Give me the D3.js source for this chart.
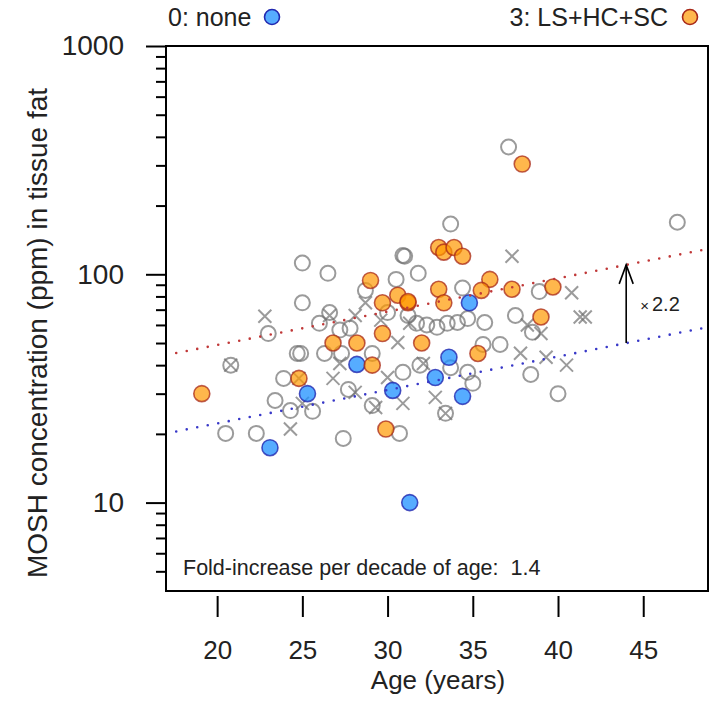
<!DOCTYPE html>
<html>
<head>
<meta charset="utf-8">
<script src="https://cdn.jsdelivr.net/npm/d3@7"></script>
<style>
body { margin: 0; background: #fff; }
svg { display: block; font-family: "Liberation Sans", Arial, Helvetica, sans-serif; }
.axis path.domain { display: none; }
.axis line { stroke: #000; stroke-width: 2; }
.axis text { fill: #222; font-family: "Liberation Sans", Arial, sans-serif; }
</style>
</head>
<body>
<svg id="chart"></svg>
<script>
const margin = {top: 46, right: 1, bottom: 110, left: 166};
const chartWidth = 709;
const chartHeight = 701;
const innerWidth = chartWidth - margin.left - margin.right;
const innerHeight = chartHeight - margin.top - margin.bottom;

const X_MIN = 17.0;
const X_MAX = 48.8;
const Y_MIN = 4.1;
const Y_MAX = 1000;

const X_TICKS = [20, 25, 30, 35, 40, 45];
const Y_TICKS = [10, 100, 1000];
const Y_MINOR_TICKS = [5, 6, 7, 8, 9, 20, 30, 40, 50, 60, 70, 80, 90, 200, 300, 400, 500, 600, 700, 800, 900];

const X_LABEL = "Age (years)";
const Y_LABEL = "MOSH concentration (ppm) in tissue fat";
const LEGEND_NONE = "0: none";
const LEGEND_ALL = "3: LS+HC+SC";
const NOTE = "Fold-increase per decade of age:  1.4";

// [age, ppm]
const noneData = [
    [23.1, 17.4], [25.3, 30], [28.2, 40.3], [30.3, 31], [31.3, 10], [32.8, 35.3],
    [33.6, 43.3], [34.4, 29.2], [34.8, 75]
];
const allData = [
    [19.1, 30], [24.8, 35], [26.8, 50], [28.2, 50], [29.0, 94], [29.7, 75], [30.6, 81],
    [31.2, 75], [31.2, 76], [29.7, 55], [32.0, 50], [29.1, 40], [29.9, 21], [33.0, 131],
    [33.3, 125], [33.9, 131], [34.4, 120], [33.0, 86], [33.3, 75], [36.0, 95], [35.5, 85],
    [37.3, 86], [39.7, 88], [39.0, 65], [35.3, 45], [37.9, 304]
];
const otherCircles = [
    [37.1, 361], [47.0, 169], [33.7, 166], [30.9, 121], [31.0, 120], [25.0, 112], [26.5, 101],
    [30.5, 95], [31.8, 101], [28.7, 85], [25.0, 75], [34.4, 87], [38.9, 84], [23.0, 55],
    [24.9, 45], [24.7, 45], [26.3, 45], [27.3, 45], [29.1, 45], [20.8, 40], [23.9, 35],
    [23.4, 28], [24.3, 25.3], [25.6, 25.1], [20.5, 20.1], [22.3, 20.1], [27.4, 19.1],
    [30.7, 20.1], [27.7, 31.3], [29.1, 26.6], [30.9, 37.2], [31.9, 40], [38.4, 36.4],
    [40.0, 30], [35.0, 33.3], [34.7, 37.2], [33.7, 39], [35.6, 49.3], [36.6, 49.3],
    [33.4, 24.6], [26.0, 61], [27.2, 57], [27.8, 58], [30.0, 68], [31.2, 66], [31.7, 61],
    [32.3, 60], [32.9, 58.6], [33.5, 61], [34.1, 61.5], [34.7, 64], [35.7, 61.5],
    [37.5, 66], [38.5, 55.7], [26.6, 68]
];
const otherCrosses = [
    [37.3, 120], [22.8, 65.5], [20.8, 40], [24.8, 35], [24.3, 21], [25.0, 27.2], [26.6, 66],
    [28.1, 66], [28.7, 75], [26.8, 35], [27.2, 40.7], [28.1, 30.4], [29.3, 26.1], [30.9, 27.2],
    [30.0, 35.3], [32.1, 40.7], [29.6, 63], [31.3, 61], [37.8, 45.1], [39.3, 43.3], [40.5, 40],
    [40.8, 83], [41.3, 65], [41.6, 65], [38.2, 60], [39.0, 55], [32.8, 28.9], [33.4, 24.6],
    [30.6, 50.3]
];

// fitted lines (log scale), ends only
const FIT_AGES = [17.6, 48.8];
const FIT_LOW = [20.5, 58.7];
const FIT_HIGH = [45.2, 129.2];

const ARROW_AGE = 44.0;
const ARROW_FROM = 50;
const ARROW_TO = 110;
const ARROW_LABEL = "2.2";

const GREY = "#707070";

let xScale = d3.scaleLinear().domain([X_MIN, X_MAX]).range([0, innerWidth]);
let yScale = d3.scaleLog().domain([Y_MIN, Y_MAX]).range([innerHeight, 0]);

let chartSvg = d3.select("#chart")
    .attr("width", chartWidth)
    .attr("height", chartHeight);
let chartG = chartSvg.append("g")
    .attr("transform", `translate(${margin.left}, ${margin.top})`);

chartSvg.append("defs").append("clipPath")
    .attr("id", "plot-clip")
    .append("rect")
    .attr("width", innerWidth)
    .attr("height", innerHeight);

drawAxes();
drawPoints();
drawFits();
drawLegend();
appendLabels();

function drawAxes() {
    chartG.append("g")
        .attr("class", "axis")
        .call(d3.axisLeft(yScale).tickValues(Y_TICKS).tickSize(20).tickPadding(22)
            .tickFormat(d3.format("d")))
        .selectAll("text").attr("font-size", "28px");

    chartG.append("g")
        .attr("class", "axis")
        .call(d3.axisLeft(yScale).tickValues(Y_MINOR_TICKS).tickSize(10).tickFormat(""));

    chartG.append("g")
        .attr("class", "axis")
        .attr("transform", `translate(0,${innerHeight + 5})`)
        .call(d3.axisBottom(xScale).tickValues(X_TICKS).tickSize(21).tickPadding(24))
        .selectAll("text").attr("font-size", "26px");

    chartG.append("rect")
        .attr("width", innerWidth)
        .attr("height", innerHeight)
        .attr("fill", "none")
        .attr("stroke", "#000")
        .attr("stroke-width", 2);
}

function drawPoints() {
    let pts = chartG.append("g").attr("clip-path", "url(#plot-clip)");

    pts.selectAll(".other-circle")
        .data(otherCircles)
        .enter().append("circle")
        .attr("class", "other-circle")
        .attr("cx", d => xScale(d[0]))
        .attr("cy", d => yScale(d[1]))
        .attr("r", 7.5)
        .attr("fill", "none")
        .attr("stroke", GREY)
        .attr("stroke-opacity", 0.7)
        .attr("stroke-width", 2);

    pts.selectAll(".other-cross")
        .data(otherCrosses)
        .enter().append("path")
        .attr("class", "other-cross")
        .attr("transform", d => `translate(${xScale(d[0])}, ${yScale(d[1])})`)
        .attr("d", d3.symbol(d3.symbolX, 112))
        .attr("fill", "none")
        .attr("stroke", GREY)
        .attr("stroke-opacity", 0.7)
        .attr("stroke-width", 2);

    pts.selectAll(".none-pt")
        .data(noneData)
        .enter().append("circle")
        .attr("class", "none-pt")
        .attr("cx", d => xScale(d[0]))
        .attr("cy", d => yScale(d[1]))
        .attr("r", 8)
        .attr("fill", "#1e90ff")
        .attr("fill-opacity", 0.75)
        .attr("stroke", "#2228b0")
        .attr("stroke-opacity", 0.8)
        .attr("stroke-width", 1.6);

    pts.selectAll(".all-pt")
        .data(allData)
        .enter().append("circle")
        .attr("class", "all-pt")
        .attr("cx", d => xScale(d[0]))
        .attr("cy", d => yScale(d[1]))
        .attr("r", 8)
        .attr("fill", "#ff9900")
        .attr("fill-opacity", 0.7)
        .attr("stroke", "#a82818")
        .attr("stroke-opacity", 0.75)
        .attr("stroke-width", 1.6);
}

function drawFits() {
    let fits = chartG.append("g").attr("clip-path", "url(#plot-clip)");
    let line = d3.line()
        .x(d => xScale(d[0]))
        .y(d => yScale(d[1]));

    fits.append("path")
        .datum(FIT_AGES.map((a, i) => [a, FIT_HIGH[i]]))
        .attr("fill", "none")
        .attr("stroke", "#c03838")
        .attr("stroke-width", 2.6)
        .attr("stroke-linecap", "round")
        .attr("stroke-dasharray", "0 10.7")
        .attr("d", line);

    fits.append("path")
        .datum(FIT_AGES.map((a, i) => [a, FIT_LOW[i]]))
        .attr("fill", "none")
        .attr("stroke", "#3838c8")
        .attr("stroke-width", 2.6)
        .attr("stroke-linecap", "round")
        .attr("stroke-dasharray", "0 10.7")
        .attr("d", line);

    let ax = xScale(ARROW_AGE);
    let yTop = yScale(ARROW_TO);
    let yBot = yScale(ARROW_FROM);
    fits.append("line")
        .attr("x1", ax).attr("x2", ax)
        .attr("y1", yBot).attr("y2", yTop)
        .attr("stroke", "#000")
        .attr("stroke-width", 1.6);
    fits.append("path")
        .attr("d", `M${ax - 7},${yTop + 19}L${ax},${yTop}L${ax + 7},${yTop + 19}`)
        .attr("fill", "none")
        .attr("stroke", "#000")
        .attr("stroke-width", 1.6);

    let lab = chartG.append("text")
        .attr("x", ax + 14)
        .attr("y", (yTop + yBot) / 2 + 7)
        .attr("fill", "#222");
    lab.append("tspan").attr("font-size", "15px").text("\u00d7");
    lab.append("tspan").attr("font-size", "20px").attr("dx", 3).text(ARROW_LABEL);

    chartG.append("text")
        .attr("x", 17)
        .attr("y", innerHeight - 16)
        .attr("font-size", "21.5px")
        .attr("fill", "#222")
        .style("white-space", "pre")
        .text(NOTE);
}

function drawLegend() {
    let legend = chartSvg.append("g");
    legend.append("text")
        .attr("x", 168)
        .attr("y", 26)
        .attr("font-size", "25px")
        .attr("fill", "#222")
        .text(LEGEND_NONE);
    legend.append("circle")
        .attr("cx", 272).attr("cy", 17).attr("r", 7.5)
        .attr("fill", "#1e90ff").attr("fill-opacity", 0.75)
        .attr("stroke", "#2228b0").attr("stroke-width", 1.6);

    legend.append("text")
        .attr("x", 668)
        .attr("y", 26)
        .attr("text-anchor", "end")
        .attr("font-size", "25px")
        .attr("fill", "#222")
        .text(LEGEND_ALL);
    legend.append("circle")
        .attr("cx", 690).attr("cy", 17).attr("r", 7.5)
        .attr("fill", "#ff9900").attr("fill-opacity", 0.7)
        .attr("stroke", "#a82818").attr("stroke-width", 1.6);
}

function appendLabels() {
    chartG.append("text")
        .attr("x", 438 - margin.left)
        .attr("y", innerHeight + 98)
        .attr("text-anchor", "middle")
        .attr("font-size", "26px")
        .attr("fill", "#222")
        .text(X_LABEL);

    chartG.append("text")
        .attr("transform", "rotate(-90)")
        .attr("x", -(333 - margin.top))
        .attr("y", -119)
        .attr("text-anchor", "middle")
        .attr("font-size", "28px")
        .attr("fill", "#222")
        .text(Y_LABEL);
}
</script>
</body>
</html>
